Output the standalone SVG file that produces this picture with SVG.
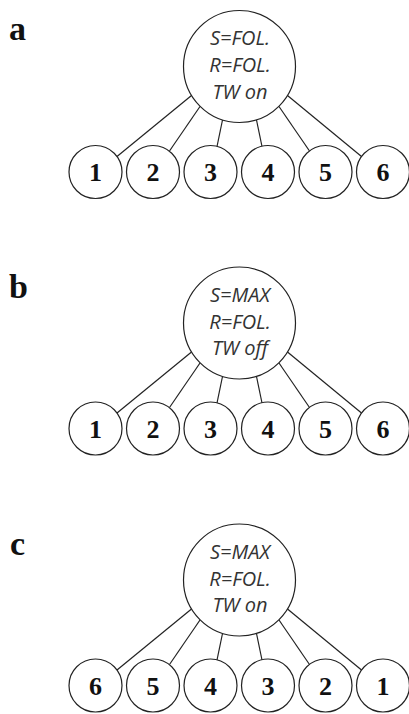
<svg xmlns="http://www.w3.org/2000/svg" width="409" height="714" viewBox="0 0 409 714">
<style>
.bg{fill:#fff}
.n{fill:#fff;stroke:#222;stroke-width:1.2}
.e{stroke:#222;stroke-width:1.2;fill:none}
.t{font-family:"Open Sans","DejaVu Sans",sans-serif;font-style:italic;font-size:20px;fill:#333;text-anchor:middle}
.d{font-family:"Liberation Serif","DejaVu Serif",serif;font-weight:bold;font-size:26px;fill:#111;text-anchor:middle}
.p{font-family:"Liberation Serif","DejaVu Serif",serif;font-weight:bold;font-size:34px;fill:#111}
</style>
<rect class="bg" width="409" height="714"/>
<text class="p" x="9" y="40">a</text>
<text class="p" x="9" y="298">b</text>
<text class="p" x="10" y="555">c</text>

<g id="panel-a">
<g id="a-edges">
<line class="e" x1="191.5" y1="95.5" x2="117" y2="156.5"/>
<line class="e" x1="200" y1="106.5" x2="169.5" y2="151"/>
<line class="e" x1="222.5" y1="120" x2="217" y2="146.5"/>
<line class="e" x1="256.5" y1="120" x2="262" y2="146.5"/>
<line class="e" x1="279" y1="106.5" x2="309.5" y2="151"/>
<line class="e" x1="287.5" y1="95.5" x2="361.5" y2="156.5"/>
</g>
<g id="a-root"><circle class="n" cx="239.5" cy="66.5" r="56"/>
<text class="t" x="240" y="45">S=FOL.</text>
<text class="t" x="240" y="72">R=FOL.</text>
<text class="t" x="240" y="98.5">TW on</text></g>
<g id="a-n1"><circle class="n" cx="95.5" cy="172" r="26.5"/><text class="d" x="95.5" y="181">1</text></g>
<g id="a-n2"><circle class="n" cx="153" cy="172" r="26.5"/><text class="d" x="153" y="181">2</text></g>
<g id="a-n3"><circle class="n" cx="210.5" cy="172" r="26.5"/><text class="d" x="210.5" y="181">3</text></g>
<g id="a-n4"><circle class="n" cx="268" cy="172" r="26.5"/><text class="d" x="268" y="181">4</text></g>
<g id="a-n5"><circle class="n" cx="325.5" cy="172" r="26.5"/><text class="d" x="325.5" y="181">5</text></g>
<g id="a-n6"><circle class="n" cx="383" cy="172" r="26.5"/><text class="d" x="383" y="181">6</text></g>
</g>

<g id="panel-b" transform="translate(0,256.5)">
<g id="b-edges">
<line class="e" x1="191.5" y1="95.5" x2="117" y2="156.5"/>
<line class="e" x1="200" y1="106.5" x2="169.5" y2="151"/>
<line class="e" x1="222.5" y1="120" x2="217" y2="146.5"/>
<line class="e" x1="256.5" y1="120" x2="262" y2="146.5"/>
<line class="e" x1="279" y1="106.5" x2="309.5" y2="151"/>
<line class="e" x1="287.5" y1="95.5" x2="361.5" y2="156.5"/>
</g>
<g id="b-root"><circle class="n" cx="239.5" cy="66.5" r="56"/>
<text class="t" x="240" y="45">S=MAX</text>
<text class="t" x="240" y="72">R=FOL.</text>
<text class="t" x="240" y="98.5">TW off</text></g>
<g id="b-n1"><circle class="n" cx="95.5" cy="172" r="26.5"/><text class="d" x="95.5" y="181">1</text></g>
<g id="b-n2"><circle class="n" cx="153" cy="172" r="26.5"/><text class="d" x="153" y="181">2</text></g>
<g id="b-n3"><circle class="n" cx="210.5" cy="172" r="26.5"/><text class="d" x="210.5" y="181">3</text></g>
<g id="b-n4"><circle class="n" cx="268" cy="172" r="26.5"/><text class="d" x="268" y="181">4</text></g>
<g id="b-n5"><circle class="n" cx="325.5" cy="172" r="26.5"/><text class="d" x="325.5" y="181">5</text></g>
<g id="b-n6"><circle class="n" cx="383" cy="172" r="26.5"/><text class="d" x="383" y="181">6</text></g>
</g>

<g id="panel-c" transform="translate(0,513.5)">
<g id="c-edges">
<line class="e" x1="191.5" y1="95.5" x2="117" y2="156.5"/>
<line class="e" x1="200" y1="106.5" x2="169.5" y2="151"/>
<line class="e" x1="222.5" y1="120" x2="217" y2="146.5"/>
<line class="e" x1="256.5" y1="120" x2="262" y2="146.5"/>
<line class="e" x1="279" y1="106.5" x2="309.5" y2="151"/>
<line class="e" x1="287.5" y1="95.5" x2="361.5" y2="156.5"/>
</g>
<g id="c-root"><circle class="n" cx="239.5" cy="66.5" r="56"/>
<text class="t" x="240" y="45">S=MAX</text>
<text class="t" x="240" y="72">R=FOL.</text>
<text class="t" x="240" y="98.5">TW on</text></g>
<g id="c-n6"><circle class="n" cx="95.5" cy="172" r="26.5"/><text class="d" x="95.5" y="181">6</text></g>
<g id="c-n5"><circle class="n" cx="153" cy="172" r="26.5"/><text class="d" x="153" y="181">5</text></g>
<g id="c-n4"><circle class="n" cx="210.5" cy="172" r="26.5"/><text class="d" x="210.5" y="181">4</text></g>
<g id="c-n3"><circle class="n" cx="268" cy="172" r="26.5"/><text class="d" x="268" y="181">3</text></g>
<g id="c-n2"><circle class="n" cx="325.5" cy="172" r="26.5"/><text class="d" x="325.5" y="181">2</text></g>
<g id="c-n1"><circle class="n" cx="383" cy="172" r="26.5"/><text class="d" x="383" y="181">1</text></g>
</g>
</svg>
